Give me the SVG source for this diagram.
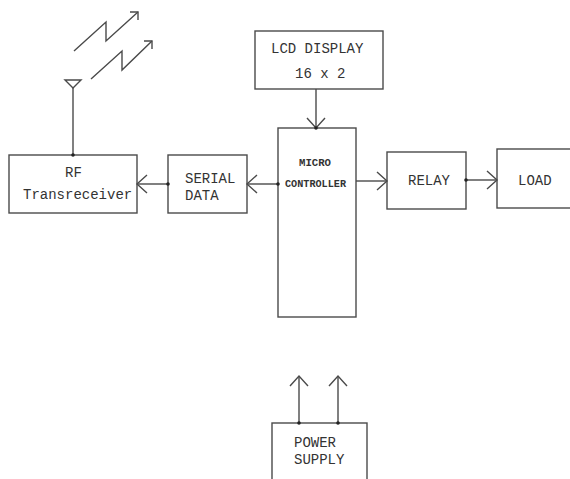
<svg xmlns="http://www.w3.org/2000/svg" width="570" height="479" viewBox="0 0 570 479">
<style>
.box{fill:#fff;stroke:#4a4a4a;stroke-width:1.4}
.ln{fill:none;stroke:#4a4a4a;stroke-width:1.4}
.t{font-family:"Liberation Mono","Courier New",monospace;font-size:14px;fill:#333}
.s{font-family:"Liberation Mono","Courier New",monospace;font-size:10px;font-weight:bold;fill:#333}
.dot{fill:#222}
</style>
<defs>
<marker id="arr" markerUnits="userSpaceOnUse" markerWidth="24" markerHeight="24" viewBox="-12 -12 24 24" refX="0" refY="0" orient="auto" overflow="visible">
<path d="M-10,-9 L0,0 L-10,9" fill="none" stroke="#4a4a4a" stroke-width="1.4"/>
</marker>
</defs>
<rect width="570" height="479" fill="#fff"/>
<g id="antenna">
<polyline class="ln" points="74,51 106,22 106,41 138,12"/>
<polyline class="ln" points="130,12 138,12 138,20"/>
<polyline class="ln" points="91,79 122,51 122,70 152,41"/>
<polyline class="ln" points="144,41 152,41 152,49"/>
<polygon class="ln" points="65,80 81,80 73,88"/>
</g>
<g id="rf">
<rect class="box" x="9" y="155" width="128" height="58"/>
<text class="t" x="65" y="177">RF</text>
<text class="t" x="23" y="199">Transreceiver</text>
</g>
<g id="serial">
<rect class="box" x="168" y="155" width="79" height="58"/>
<text class="t" x="185" y="183">SERIAL</text>
<text class="t" x="185" y="200">DATA</text>
</g>
<g id="lcd">
<rect class="box" x="255" y="31" width="128" height="58"/>
<text class="t" x="271" y="53">LCD DISPLAY</text>
<text class="t" x="295" y="78">16 x 2</text>
</g>
<g id="mc">
<rect class="box" x="278" y="128" width="78" height="189"/>
<text class="s" x="299" y="166" textLength="32" lengthAdjust="spacingAndGlyphs">MICRO</text>
<text class="s" x="285" y="187" textLength="61" lengthAdjust="spacingAndGlyphs">CONTROLLER</text>
</g>
<g id="relay">
<rect class="box" x="387" y="152" width="79" height="57"/>
<text class="t" x="408" y="185">RELAY</text>
</g>
<g id="load">
<rect class="box" x="497" y="149" width="90" height="59"/>
<text class="t" x="518" y="185">LOAD</text>
</g>
<g id="power">
<rect class="box" x="272" y="423" width="95" height="80"/>
<text class="t" x="294" y="447">POWER</text>
<text class="t" x="294" y="464">SUPPLY</text>
</g>
<g id="connectors">
<line class="ln" x1="73" y1="88" x2="73" y2="155"/>
<line class="ln" x1="168" y1="184" x2="137" y2="184" marker-end="url(#arr)"/>
<line class="ln" x1="278" y1="184" x2="247" y2="184" marker-end="url(#arr)"/>
<line class="ln" x1="316" y1="89" x2="316" y2="128" marker-end="url(#arr)"/>
<line class="ln" x1="356" y1="181" x2="387" y2="181" marker-end="url(#arr)"/>
<line class="ln" x1="466" y1="180" x2="497" y2="180" marker-end="url(#arr)"/>
<line class="ln" x1="299" y1="423" x2="299" y2="376" marker-end="url(#arr)"/>
<line class="ln" x1="338" y1="423" x2="338" y2="376" marker-end="url(#arr)"/>
<circle class="dot" cx="73" cy="155" r="1.8"/>
<circle class="dot" cx="168" cy="184" r="1.8"/>
<circle class="dot" cx="278" cy="184" r="1.8"/>
<circle class="dot" cx="316" cy="128" r="1.8"/>
<circle class="dot" cx="466" cy="180" r="1.8"/>
<circle class="dot" cx="299" cy="423" r="1.8"/>
<circle class="dot" cx="338" cy="423" r="1.8"/>
</g>
</svg>
